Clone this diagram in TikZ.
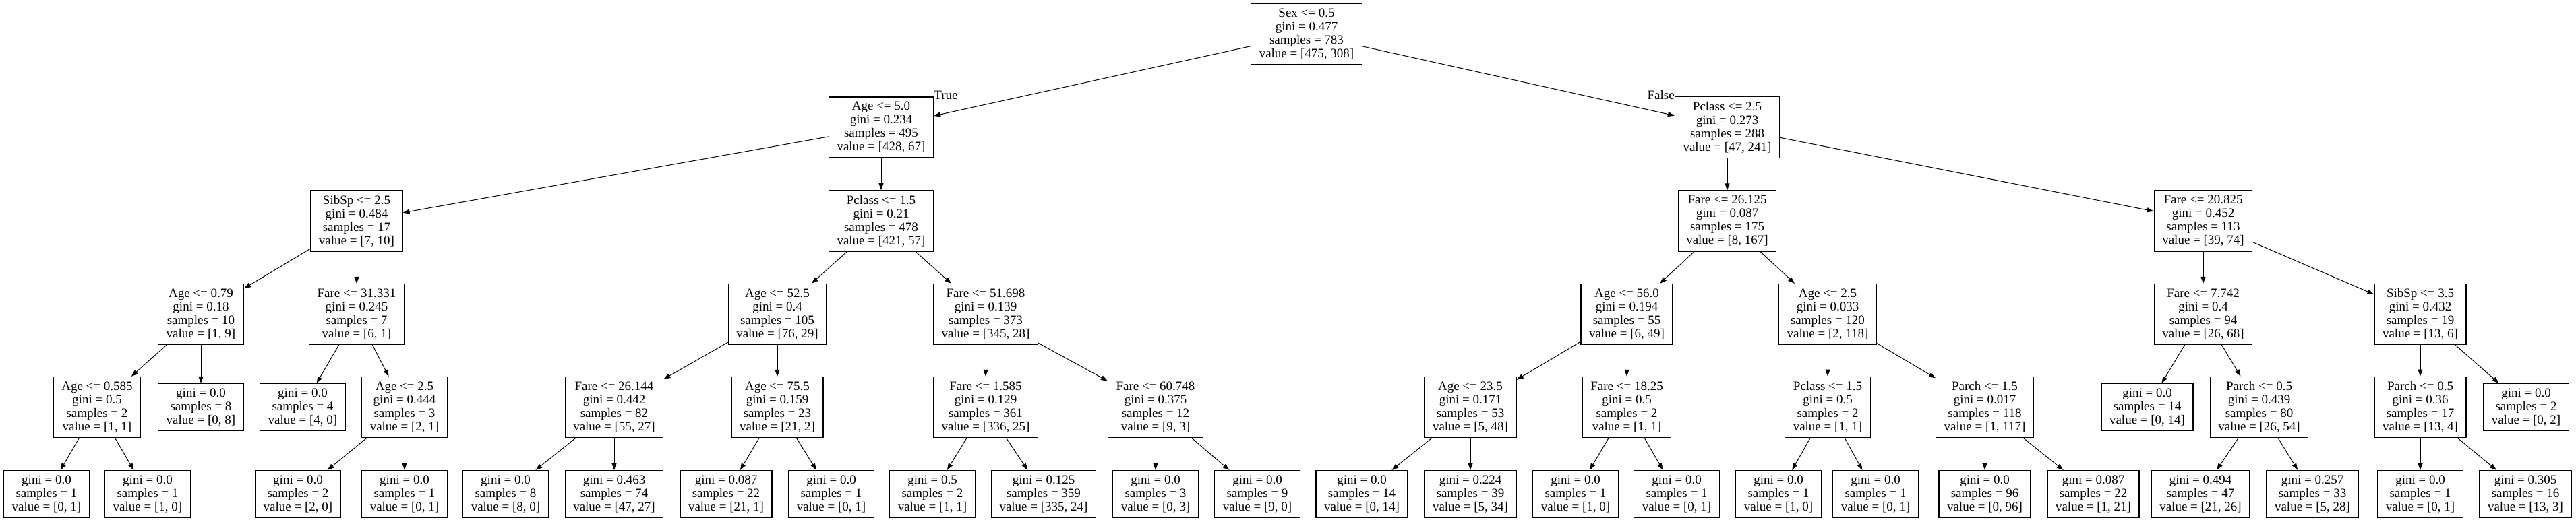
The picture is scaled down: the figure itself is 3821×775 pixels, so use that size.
\documentclass[tikz,border=0pt]{standalone}
\usepackage{fontspec}
\setmainfont{Liberation Serif}
\usetikzlibrary{arrows.meta}

\begin{document}
\begin{tikzpicture}[x=1pt, y=-1pt, ->, >={Triangle[length=10pt,width=7pt]},
  tree node/.style={rectangle, draw, line width=1.2pt, align=center,
    inner xsep=12pt, inner ysep=7.2pt, font=\fontsize{19pt}{20pt}\selectfont},
  split node/.style={tree node},
  leaf node/.style={tree node},
  branch label/.style={inner sep=0pt, font=\fontsize{19pt}{20pt}\selectfont}]
  \useasboundingbox (0,0) rectangle (3821,775);
  % depth 0 and 1
  \node[split node] (0) at (1938,50.5) {Sex <= 0.5\\gini = 0.477\\samples = 783\\value = [475, 308]};
  \node[split node] (1) at (1307,189) {Age <= 5.0\\gini = 0.234\\samples = 495\\value = [428, 67]};
  \node[split node] (28) at (2562,189) {Pclass <= 2.5\\gini = 0.273\\samples = 288\\value = [47, 241]};
  % depth 2
  \node[split node] (2) at (529,328) {SibSp <= 2.5\\gini = 0.484\\samples = 17\\value = [7, 10]};
  \node[split node] (13) at (1307,328) {Pclass <= 1.5\\gini = 0.21\\samples = 478\\value = [421, 57]};
  \node[split node] (29) at (2562,328) {Fare <= 26.125\\gini = 0.087\\samples = 175\\value = [8, 167]};
  \node[split node] (44) at (3268,328) {Fare <= 20.825\\gini = 0.452\\samples = 113\\value = [39, 74]};
  % depth 3
  \node[split node] (3) at (298,466.5) {Age <= 0.79\\gini = 0.18\\samples = 10\\value = [1, 9]};
  \node[split node] (8) at (529,466.5) {Fare <= 31.331\\gini = 0.245\\samples = 7\\value = [6, 1]};
  \node[split node] (14) at (1153,466.5) {Age <= 52.5\\gini = 0.4\\samples = 105\\value = [76, 29]};
  \node[split node] (21) at (1462,466.5) {Fare <= 51.698\\gini = 0.139\\samples = 373\\value = [345, 28]};
  \node[split node] (30) at (2413,466.5) {Age <= 56.0\\gini = 0.194\\samples = 55\\value = [6, 49]};
  \node[split node] (37) at (2711,466.5) {Age <= 2.5\\gini = 0.033\\samples = 120\\value = [2, 118]};
  \node[split node] (45) at (3268,466.5) {Fare <= 7.742\\gini = 0.4\\samples = 94\\value = [26, 68]};
  \node[split node] (50) at (3590,466.5) {SibSp <= 3.5\\gini = 0.432\\samples = 19\\value = [13, 6]};
  % depth 4
  \node[split node] (4) at (144,604.5) {Age <= 0.585\\gini = 0.5\\samples = 2\\value = [1, 1]};
  \node[leaf node] (7) at (298,604.5) {gini = 0.0\\samples = 8\\value = [0, 8]};
  \node[leaf node] (9) at (449,604.5) {gini = 0.0\\samples = 4\\value = [4, 0]};
  \node[split node] (10) at (600,604.5) {Age <= 2.5\\gini = 0.444\\samples = 3\\value = [2, 1]};
  \node[split node] (15) at (911,604.5) {Fare <= 26.144\\gini = 0.442\\samples = 82\\value = [55, 27]};
  \node[split node] (18) at (1153,604.5) {Age <= 75.5\\gini = 0.159\\samples = 23\\value = [21, 2]};
  \node[split node] (22) at (1462,604.5) {Fare <= 1.585\\gini = 0.129\\samples = 361\\value = [336, 25]};
  \node[split node] (25) at (1714,604.5) {Fare <= 60.748\\gini = 0.375\\samples = 12\\value = [9, 3]};
  \node[split node] (31) at (2181,604.5) {Age <= 23.5\\gini = 0.171\\samples = 53\\value = [5, 48]};
  \node[split node] (34) at (2413,604.5) {Fare <= 18.25\\gini = 0.5\\samples = 2\\value = [1, 1]};
  \node[split node] (38) at (2711,604.5) {Pclass <= 1.5\\gini = 0.5\\samples = 2\\value = [1, 1]};
  \node[split node] (41) at (2944,604.5) {Parch <= 1.5\\gini = 0.017\\samples = 118\\value = [1, 117]};
  \node[leaf node] (46) at (3185,604.5) {gini = 0.0\\samples = 14\\value = [0, 14]};
  \node[split node] (47) at (3351,604.5) {Parch <= 0.5\\gini = 0.439\\samples = 80\\value = [26, 54]};
  \node[split node] (51) at (3590,604.5) {Parch <= 0.5\\gini = 0.36\\samples = 17\\value = [13, 4]};
  \node[leaf node] (54) at (3747,604.5) {gini = 0.0\\samples = 2\\value = [0, 2]};
  % depth 5
  \node[leaf node] (5) at (69,733.5) {gini = 0.0\\samples = 1\\value = [0, 1]};
  \node[leaf node] (6) at (219,733.5) {gini = 0.0\\samples = 1\\value = [1, 0]};
  \node[leaf node] (11) at (442,733.5) {gini = 0.0\\samples = 2\\value = [2, 0]};
  \node[leaf node] (12) at (600,733.5) {gini = 0.0\\samples = 1\\value = [0, 1]};
  \node[leaf node] (16) at (750,733.5) {gini = 0.0\\samples = 8\\value = [8, 0]};
  \node[leaf node] (17) at (911,733.5) {gini = 0.463\\samples = 74\\value = [47, 27]};
  \node[leaf node] (19) at (1077,733.5) {gini = 0.087\\samples = 22\\value = [21, 1]};
  \node[leaf node] (20) at (1233,733.5) {gini = 0.0\\samples = 1\\value = [0, 1]};
  \node[leaf node] (23) at (1383,733.5) {gini = 0.5\\samples = 2\\value = [1, 1]};
  \node[leaf node] (24) at (1548,733.5) {gini = 0.125\\samples = 359\\value = [335, 24]};
  \node[leaf node] (26) at (1714,733.5) {gini = 0.0\\samples = 3\\value = [0, 3]};
  \node[leaf node] (27) at (1865,733.5) {gini = 0.0\\samples = 9\\value = [9, 0]};
  \node[leaf node] (32) at (2020,733.5) {gini = 0.0\\samples = 14\\value = [0, 14]};
  \node[leaf node] (33) at (2181,733.5) {gini = 0.224\\samples = 39\\value = [5, 34]};
  \node[leaf node] (35) at (2337,733.5) {gini = 0.0\\samples = 1\\value = [1, 0]};
  \node[leaf node] (36) at (2487,733.5) {gini = 0.0\\samples = 1\\value = [0, 1]};
  \node[leaf node] (39) at (2638,733.5) {gini = 0.0\\samples = 1\\value = [1, 0]};
  \node[leaf node] (40) at (2782,733.5) {gini = 0.0\\samples = 1\\value = [0, 1]};
  \node[leaf node] (42) at (2944,733.5) {gini = 0.0\\samples = 96\\value = [0, 96]};
  \node[leaf node] (43) at (3105,733.5) {gini = 0.087\\samples = 22\\value = [1, 21]};
  \node[leaf node] (48) at (3264,733.5) {gini = 0.494\\samples = 47\\value = [21, 26]};
  \node[leaf node] (49) at (3430,733.5) {gini = 0.257\\samples = 33\\value = [5, 28]};
  \node[leaf node] (52) at (3590,733.5) {gini = 0.0\\samples = 1\\value = [0, 1]};
  \node[leaf node] (53) at (3746,733.5) {gini = 0.305\\samples = 16\\value = [13, 3]};
  % branch labels
  \node[branch label, anchor=base west] (truelbl) at ([yshift=-4pt]1.north east) {True};
  \node[branch label, anchor=base east] (falselbl) at ([yshift=-4pt]28.north west) {False};
  \path[line width=1pt]
    (0) edge (1)  (0) edge (28)
    (1) edge (2)  (1) edge (13)
    (2) edge (3)  (2) edge (8)
    (3) edge (4)  (3) edge (7)
    (4) edge (5)  (4) edge (6)
    (8) edge (9)  (8) edge (10)
    (10) edge (11) (10) edge (12)
    (13) edge (14) (13) edge (21)
    (14) edge (15) (14) edge (18)
    (15) edge (16) (15) edge (17)
    (18) edge (19) (18) edge (20)
    (21) edge (22) (21) edge (25)
    (22) edge (23) (22) edge (24)
    (25) edge (26) (25) edge (27)
    (28) edge (29) (28) edge (44)
    (29) edge (30) (29) edge (37)
    (30) edge (31) (30) edge (34)
    (31) edge (32) (31) edge (33)
    (34) edge (35) (34) edge (36)
    (37) edge (38) (37) edge (41)
    (38) edge (39) (38) edge (40)
    (41) edge (42) (41) edge (43)
    (44) edge (45) (44) edge (50)
    (45) edge (46) (45) edge (47)
    (47) edge (48) (47) edge (49)
    (50) edge (51) (50) edge (54)
    (51) edge (52) (51) edge (53);
\end{tikzpicture}
\end{document}
